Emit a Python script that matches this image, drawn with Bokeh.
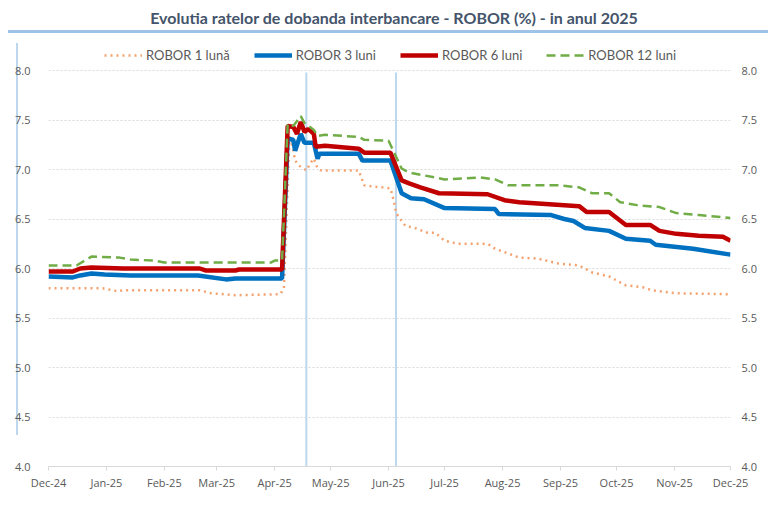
import pandas as pd
from bokeh.plotting import figure
from bokeh.layouts import column
from bokeh.models import (Range1d, LinearAxis, FixedTicker, DatetimeTickFormatter,
                          NumeralTickFormatter, Legend, LegendItem, Div)
from bokeh.embed import file_html
from bokeh.resources import INLINE

TITLE = "Evolutia ratelor de dobanda interbancare - ROBOR (%) - in anul 2025"

# ROBOR 1 lună
d1 = ["2024-12-01", "2024-12-30", "2025-01-07", "2025-01-10", "2025-02-20", "2025-02-26",
      "2025-03-11", "2025-04-04", "2025-04-06", "2025-04-09", "2025-04-11", "2025-04-12",
      "2025-04-14", "2025-04-18", "2025-04-20", "2025-04-22", "2025-04-24", "2025-04-26",
      "2025-05-16", "2025-05-19", "2025-05-23", "2025-06-02", "2025-06-04", "2025-06-05",
      "2025-06-08", "2025-06-10", "2025-06-15", "2025-06-22", "2025-06-26", "2025-07-01",
      "2025-07-08", "2025-07-24", "2025-07-28", "2025-08-10", "2025-08-20", "2025-08-31",
      "2025-09-11", "2025-09-14", "2025-09-18", "2025-09-27", "2025-10-06", "2025-10-15",
      "2025-10-20", "2025-11-02", "2025-12-01"]
v1 = [5.80, 5.80, 5.77, 5.78, 5.78, 5.75,
      5.73, 5.74, 5.80, 7.35, 7.19, 7.09,
      7.04, 6.99, 7.06, 7.11, 7.01, 6.99,
      6.99, 6.84, 6.83, 6.81, 6.67, 6.56,
      6.48, 6.43, 6.41, 6.36, 6.36, 6.28,
      6.25, 6.25, 6.20, 6.11, 6.10, 6.05,
      6.03, 6.00, 5.96, 5.92, 5.83, 5.81,
      5.78, 5.75, 5.74]

# ROBOR 3 luni
d3 = ["2024-12-01", "2024-12-14", "2024-12-18", "2024-12-24", "2024-12-31", "2025-01-14",
      "2025-02-19", "2025-03-06", "2025-03-11", "2025-04-05", "2025-04-08", "2025-04-11",
      "2025-04-12", "2025-04-15", "2025-04-17", "2025-04-22", "2025-04-24", "2025-04-25",
      "2025-05-16", "2025-05-18", "2025-06-02", "2025-06-08", "2025-06-13", "2025-06-20",
      "2025-07-01", "2025-07-28", "2025-07-30", "2025-08-27", "2025-09-03", "2025-09-08",
      "2025-09-14", "2025-09-27", "2025-10-06", "2025-10-19", "2025-10-22", "2025-11-11",
      "2025-12-01"]
v3 = [5.92, 5.91, 5.93, 5.95, 5.94, 5.93,
      5.93, 5.89, 5.90, 5.90, 7.31, 7.30,
      7.19, 7.36, 7.27, 7.27, 7.11, 7.16,
      7.16, 7.09, 7.09, 6.76, 6.71, 6.70,
      6.61, 6.60, 6.55, 6.54, 6.50, 6.48,
      6.41, 6.38, 6.30, 6.28, 6.24, 6.20,
      6.14]

# ROBOR 6 luni
d6 = ["2024-12-01", "2024-12-14", "2024-12-18", "2024-12-24", "2025-01-10", "2025-02-20",
      "2025-02-23", "2025-03-11", "2025-03-13", "2025-04-05", "2025-04-08", "2025-04-11",
      "2025-04-13", "2025-04-15", "2025-04-17", "2025-04-19", "2025-04-22", "2025-04-23",
      "2025-04-28", "2025-05-16", "2025-05-19", "2025-06-02", "2025-06-08", "2025-06-12",
      "2025-06-18", "2025-06-28", "2025-07-24", "2025-08-02", "2025-08-10", "2025-09-11",
      "2025-09-15", "2025-09-27", "2025-10-06", "2025-10-19", "2025-10-24", "2025-11-02",
      "2025-11-14", "2025-11-27", "2025-12-01"]
v6 = [5.97, 5.97, 6.00, 6.01, 6.00, 6.00,
      5.98, 5.98, 5.99, 5.99, 7.44, 7.43,
      7.36, 7.48, 7.38, 7.41, 7.36, 7.23,
      7.24, 7.21, 7.17, 7.17, 6.89, 6.86,
      6.82, 6.76, 6.75, 6.69, 6.67, 6.63,
      6.57, 6.57, 6.44, 6.44, 6.38, 6.35,
      6.33, 6.32, 6.28]

# ROBOR 12 luni
d12 = ["2024-12-01", "2024-12-16", "2024-12-24", "2025-01-08", "2025-01-14", "2025-01-27",
       "2025-02-01", "2025-03-30", "2025-04-01", "2025-04-05", "2025-04-08", "2025-04-11",
       "2025-04-15", "2025-04-17", "2025-04-22", "2025-04-24", "2025-04-28", "2025-05-16",
       "2025-05-19", "2025-06-01", "2025-06-08", "2025-06-12", "2025-07-01", "2025-07-20",
       "2025-07-28", "2025-08-04", "2025-08-31", "2025-09-11", "2025-09-18", "2025-09-27",
       "2025-10-03", "2025-10-12", "2025-10-24", "2025-11-02", "2025-11-14", "2025-12-01"]
v12 = [6.03, 6.03, 6.12, 6.11, 6.09, 6.08,
       6.06, 6.06, 6.08, 6.08, 7.46, 7.44,
       7.54, 7.47, 7.40, 7.34, 7.35, 7.33,
       7.30, 7.29, 7.01, 6.97, 6.90, 6.92,
       6.90, 6.84, 6.84, 6.82, 6.76, 6.76,
       6.67, 6.64, 6.62, 6.56, 6.54, 6.51]

series_names = ["ROBOR 1 lună", "ROBOR 3 luni", "ROBOR 6 luni", "ROBOR 12 luni"]
month_ticks = pd.date_range("2024-12-01", "2025-12-01", freq="MS")
y_ticks = [4.0, 4.5, 5.0, 5.5, 6.0, 6.5, 7.0, 7.5, 8.0]
markers = pd.to_datetime(["2025-04-18", "2025-06-05"])

GRAY = "#595959"
# frame extends a little above 8.0 to leave room for the legend (no y-axis lines shown)
p = figure(width=768, height=470, x_axis_type="datetime", output_backend="svg",
           toolbar_location=None,
           x_range=Range1d(pd.Timestamp("2024-12-01"), pd.Timestamp("2025-12-01")),
           y_range=Range1d(4.0, 8.0 + 28 / 99),
           min_border_left=48, min_border_right=38, min_border_top=7, min_border_bottom=39)
p.outline_line_color = None
p.border_fill_alpha = 0
p.background_fill_color = "white"
p.xgrid.grid_line_color = None
p.ygrid.ticker = FixedTicker(ticks=y_ticks)
p.ygrid.grid_line_color = "#d9d9d9"
p.ygrid.grid_line_dash = "2 2"
p.ygrid.grid_line_width = 1

tick_ms = [t.value / 1e6 for t in month_ticks]
p.xaxis.ticker = FixedTicker(ticks=tick_ms)
fmt = "%b-%y"
p.xaxis.formatter = DatetimeTickFormatter(days=fmt, months=fmt, years=fmt, hours=fmt,
                                          minutes=fmt, seconds=fmt, milliseconds=fmt,
                                          microseconds=fmt, minsec=fmt, hourmin=fmt)
p.xaxis.axis_line_color = "#d9d9d9"
p.xaxis.major_tick_line_color = "#d9d9d9"
p.xaxis.major_tick_out = 4
p.xaxis.major_tick_in = 0
p.xaxis.minor_tick_line_color = None
p.xaxis.major_label_text_font = "Open Sans"
p.xaxis.major_label_text_font_size = "11px"
p.xaxis.major_label_text_color = GRAY
p.xaxis.major_label_standoff = 4

p.yaxis.ticker = FixedTicker(ticks=y_ticks)
p.yaxis.formatter = NumeralTickFormatter(format="0.0")
right = LinearAxis(ticker=FixedTicker(ticks=y_ticks), formatter=NumeralTickFormatter(format="0.0"))
p.add_layout(right, "right")
for ax in (p.yaxis[0], right):
    ax.axis_line_color = None
    ax.major_tick_line_color = None
    ax.minor_tick_line_color = None
    ax.major_label_text_font = "Open Sans"
    ax.major_label_text_font_size = "11px"
    ax.major_label_text_color = GRAY
p.yaxis[0].major_label_standoff = 12
right.major_label_standoff = 5

p.segment(x0=markers, y0=min(y_ticks), x1=markers, y1=max(y_ticks) - 0.02,
          line_color="#bdd7ee", line_width=2)

r1 = p.line(pd.to_datetime(d1), v1, line_color="#f4a26e", line_width=2.5, line_dash="2 4")
r3 = p.line(pd.to_datetime(d3), v3, line_color="#0070c0", line_width=4.5)
r6 = p.line(pd.to_datetime(d6), v6, line_color="#c00000", line_width=4.5)
r12 = p.line(pd.to_datetime(d12), v12, line_color="#70ad47", line_width=2.5, line_dash="9 5")

legend = Legend(items=[LegendItem(label=n, renderers=[r]) for n, r in
                       zip(series_names, [r1, r3, r6, r12])],
                orientation="horizontal", location=(56, 402),
                glyph_width=38, glyph_height=18, label_standoff=4, spacing=24,
                padding=0, margin=0, border_line_color=None, background_fill_alpha=0,
                label_text_font="Lato", label_text_font_size="13px", label_text_color=GRAY)
p.add_layout(legend, "center")

title_div = Div(
    text=('<div style="position:relative;width:760px;margin-left:8px;height:33px;'
          'box-sizing:border-box;border-bottom:3px solid #9dc3e6;text-align:center;'
          'padding-top:8px;padding-left:12px;font-family:Lato;font-weight:bold;'
          'font-size:16px;line-height:19px;color:#44546a;white-space:nowrap">' + TITLE +
          '<div style="position:absolute;left:8px;top:43px;width:2px;height:392px;'
          'background:#bdd7ee;z-index:-1"></div></div>'),
    width=768, height=35, margin=0, styles={"overflow": "visible"})

layout = column(title_div, p, spacing=0)
open("out.html", "w").write(file_html(layout, INLINE))
